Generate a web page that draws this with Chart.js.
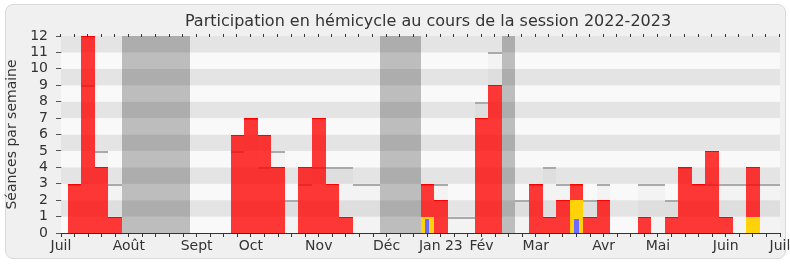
<!DOCTYPE html>
<html>
<head>
<meta charset="utf-8">
<script src="https://cdn.jsdelivr.net/npm/chart.js@4/dist/chart.umd.min.js"></script>
<style>
  html, body { margin: 0; padding: 0; background: #fff; }
  #frame { position: absolute; left: 5px; top: 4px; width: 779px; height: 253px;
           border: 1px solid #dadada; border-radius: 8px; background: #f0f0f0; }
  #wrap { position: absolute; left: 0; top: 0; width: 790px; height: 267px; }
</style>
</head>
<body>
<div id="frame"></div>
<div id="wrap"><canvas id="chart" width="790" height="267"></canvas></div>
<script>
// Weeks of the session, index 0 = first week of July 2022
const weekCount = 54;

// Month labels and the week where each one sits
const monthLabels = ['Juil', 'Août', 'Sept', 'Oct', 'Nov', 'Déc', 'Jan 23', 'Fév', 'Mar', 'Avr', 'Mai', 'Juin', 'Juil'];
const monthWeeks = [0, 5, 10, 14, 19, 24, 28, 31, 35, 40, 44, 49, 53];

// Séances in hémicycle per week (red)
const presences = [0, 3, 12, 4, 1, 0, 0, 0, 0, 0,
                   0, 0, 0, 6, 7, 6, 4, 0, 4, 7,
                   3, 1, 0, 0, 0, 0, 0, 3, 2, 0,
                   0, 7, 9, 0, 0, 3, 1, 2, 3, 1,
                   2, 0, 0, 1, 0, 1, 4, 3, 5, 1,
                   0, 4, 0, 0];
// Yellow and blue weekly counts
const interventions = [0, 0, 0, 0, 0, 0, 0, 0, 0, 0,
                       0, 0, 0, 0, 0, 0, 0, 0, 0, 0,
                       0, 0, 0, 0, 0, 0, 0, 1, 0, 0,
                       0, 0, 0, 0, 0, 0, 0, 0, 2, 0,
                       0, 0, 0, 0, 0, 0, 0, 0, 0, 0,
                       0, 1, 0, 0];
const questions = [0, 0, 0, 0, 0, 0, 0, 0, 0, 0,
                   0, 0, 0, 0, 0, 0, 0, 0, 0, 0,
                   0, 0, 0, 0, 0, 0, 0, 0.85, 0, 0,
                   0, 0, 0, 0, 0, 0, 0, 0, 0.85, 0,
                   0, 0, 0, 0, 0, 0, 0, 0, 0, 0,
                   0, 0, 0, 0];
// Median of all deputies (grey line)
const medians = [0, 3, 9, 5, 3, 0, 0, 0, 0, 0,
                 0, 0, 0, 5, 7, 4, 5, 2, 3, 4,
                 4, 4, 3, 3, 0, 0, 0, 3, 3, 1,
                 1, 8, 11, 0, 2, 3, 4, 3, 3, 2,
                 3, 0, 0, 3, 3, 2, 4, 3, 3, 3,
                 3, 3, 3, 3];
// Parliamentary holidays
const vacances = [0, 0, 0, 0, 0, 12, 12, 12, 12, 12,
                  0, 0, 0, 0, 0, 0, 0, 0, 0, 0,
                  0, 0, 0, 0, 12, 12, 12, 0, 0, 0,
                  0, 0, 0, 12, 0, 0, 0, 0, 0, 0,
                  0, 0, 0, 0, 0, 0, 0, 0, 0, 0,
                  0, 0, 0, 0];

const yMax = 12;
const fontFamily = '"DejaVu Sans", Verdana, sans-serif';
const textColor = '#333';

function toPoints(values) {
  return values.map((v, i) => ({ x: i, y: v > 0 ? v : null }));
}

// striped background behind the bars
const stripes = {
  id: 'stripes',
  beforeDatasetsDraw(chart) {
    const { ctx, chartArea, scales } = chart;
    ctx.save();
    for (let v = 0; v < yMax; v++) {
      const y1 = scales.y.getPixelForValue(v + 1);
      const y0 = scales.y.getPixelForValue(v);
      ctx.fillStyle = v % 2 === 1 ? '#e4e4e4' : '#f9f9f9';
      ctx.fillRect(chartArea.left, y1, chartArea.right - chartArea.left, y0 - y1);
    }
    ctx.restore();
  }
};

// snap bar edges to whole pixels so neighbouring weeks don't leave seams
const snapBars = {
  id: 'snapBars',
  beforeDatasetsDraw(chart) {
    chart.data.datasets.forEach((ds, di) => {
      chart.getDatasetMeta(di).data.forEach((bar) => {
        if (bar.skip || isNaN(bar.x)) return;
        const left = Math.round(bar.x - bar.width / 2);
        const right = Math.round(bar.x + bar.width / 2);
        bar.x = (left + right) / 2;
        bar.width = right - left;
        bar.y = Math.round(bar.y);
        bar.base = Math.round(bar.base);
      });
    });
  }
};

// small marks on the top edge + title
const extras = {
  id: 'extras',
  afterDraw(chart) {
    const { ctx, chartArea, scales } = chart;
    ctx.save();
    ctx.fillStyle = '#333';
    for (let i = 0; i < weekCount; i++) {
      const x = Math.round(scales.x.getPixelForValue(i));
      ctx.fillRect(x - 1, chartArea.top - 2, 1, 3);
    }
    ctx.font = '16px ' + fontFamily;
    ctx.fillStyle = textColor;
    ctx.textAlign = 'center';
    ctx.textBaseline = 'alphabetic';
    ctx.fillText('Participation en hémicycle au cours de la session 2022-2023', 428, 26);
    ctx.restore();
  }
};

const barCommon = { barPercentage: 1, categoryPercentage: 1, inflateAmount: 0 };

new Chart(document.getElementById('chart'), {
  type: 'bar',
  data: {
    datasets: [
      {
        ...barCommon,
        label: 'Questions orales',
        data: toPoints(questions),
        backgroundColor: '#6b6bff',
        barPercentage: 0.3
      },
      {
        ...barCommon,
        label: 'Interventions',
        data: toPoints(interventions),
        backgroundColor: '#ffd20a'
      },
      {
        ...barCommon,
        label: 'Présences',
        data: toPoints(presences),
        backgroundColor: 'rgba(255, 0, 0, 0.78)',
        borderColor: '#ff0000',
        borderWidth: { top: 1, right: 0, bottom: 0, left: 0 },
        borderSkipped: 'start'
      },
      {
        ...barCommon,
        label: 'Médiane',
        data: toPoints(medians),
        backgroundColor: 'rgba(0, 0, 0, 0.025)',
        borderColor: '#aaaaaa',
        borderWidth: { top: 2, right: 0, bottom: 0, left: 0 },
        borderSkipped: 'start'
      },
      {
        ...barCommon,
        label: 'Vacances',
        data: toPoints(vacances),
        backgroundColor: 'rgba(0, 0, 0, 0.24)'
      }
    ]
  },
  options: {
    responsive: false,
    animation: false,
    devicePixelRatio: 1,
    datasets: { bar: { grouped: false } },
    layout: { padding: { top: 36, right: 10, bottom: 0, left: 0 } },
    plugins: {
      legend: { display: false },
      tooltip: { enabled: false },
      title: { display: false }
    },
    scales: {
      x: {
        type: 'linear',
        min: 0,
        max: weekCount - 1,
        offset: false,
        grid: { drawOnChartArea: false, drawTicks: true, tickLength: 4, tickColor: '#333', offset: false },
        border: { color: '#333' },
        ticks: {
          stepSize: 1,
          autoSkip: false,
          maxRotation: 0,
          padding: 1,
          color: textColor,
          font: { family: fontFamily, size: 14 },
          callback: (v) => {
            const k = monthWeeks.indexOf(v);
            return k >= 0 ? monthLabels[k] : '';
          }
        },
        afterFit: (s) => { s.height = 34; s.paddingLeft = 0; s.paddingRight = 0; }
      },
      y: {
        min: 0,
        max: yMax,
        grid: { drawOnChartArea: false, drawTicks: true, tickLength: 5, tickColor: '#555' },
        border: { color: '#333' },
        ticks: {
          stepSize: 1,
          autoSkip: false,
          padding: 8,
          color: textColor,
          font: { family: fontFamily, size: 14 }
        },
        title: {
          display: true,
          text: 'Séances par semaine',
          color: textColor,
          font: { family: fontFamily, size: 14 },
          padding: { top: 4, bottom: 0 }
        },
        afterFit: (s) => { s.width = 61; }
      }
    }
  },
  plugins: [stripes, snapBars, extras]
});
</script>
</body>
</html>
